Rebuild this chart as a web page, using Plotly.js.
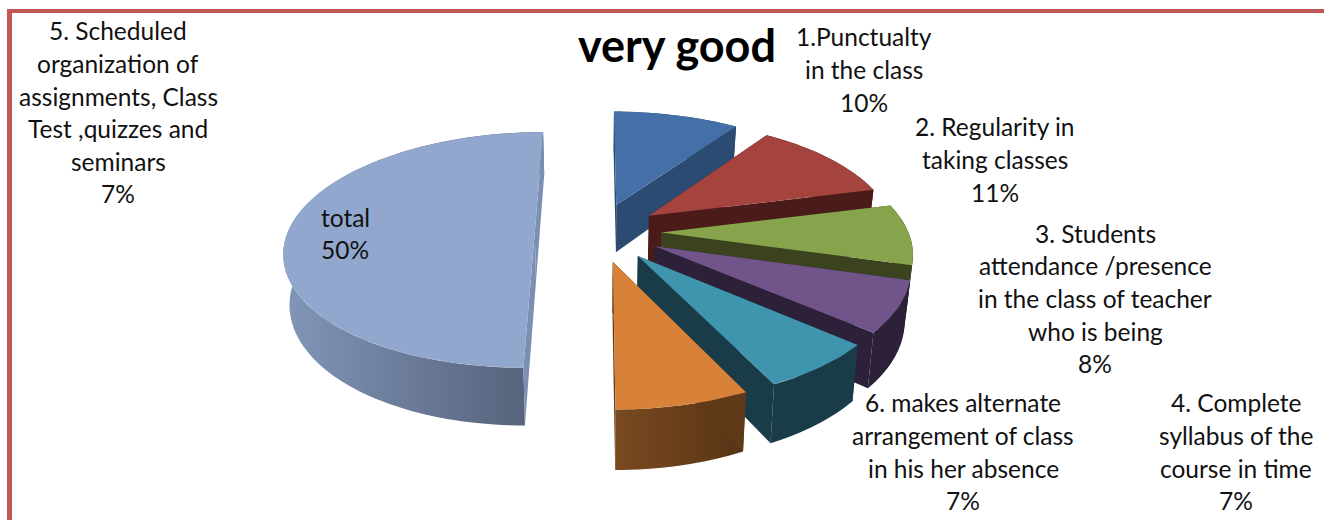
<!DOCTYPE html>
<html>
<head>
<meta charset="utf-8">
<script src="https://cdn.plot.ly/plotly-3.0.1.min.js"></script>
<style>html,body{margin:0;padding:0;background:#fff}#c{width:1324px;height:520px}</style>
</head>
<body>
<div id="c"></div>
<script>
// ---- data ----
const categories = ["1.Punctualty in the class","2. Regularity in taking classes","3. Students attendance /presence in the class of teacher who is being","4. Complete syllabus of the course in time","5. Scheduled organization of assignments, Class Test ,quizzes and seminars","6. makes alternate arrangement of class in his her absence","total"];
const values = [9.7, 11.4, 8.3, 6.9, 6.5, 7.2, 50.0];
const topColors = ["#4570A7","#A5433F","#87A34C","#70548A","#3F95AE","#D88139","#91A7CE"];
const wallColors = ["#2C4B72","#4A1B19","#3A421E","#2C2138","#1A3C49","#573416","#7F93B5"];
const wallGradients = [null,null,null,null,null,["#7A4A20","#573315"],["#8296B8","#525F77"]];
const cutColors = ["#2C4B72","#4A1B19","#3A421E","#2C2138","#1A3C49","#5F3A18","#7B8FB3"];
const drawOrder = [6,0,1,2,3,4,5];
const titleText = "very good";
const labelBlocks = [
  {cx:864, ys:[36,69,102], lines:["1.Punctualty","in the class","10%"]},
  {cx:995, ys:[126,159,192], lines:["2. Regularity in","taking classes","11%"]},
  {cx:1095, ys:[233,265,298,331,363], lines:["3. Students","attendance /presence","in the class of teacher","who is being","8%"]},
  {cx:1236, ys:[402,435,468,500], lines:["4. Complete","syllabus of the","course in time","7%"]},
  {cx:118, ys:[30,63,96,128,161,193], lines:["5. Scheduled","organization of","assignments, Class","Test ,quizzes and","seminars","7%"]},
  {cx:963, ys:[402,435,468,500], lines:["6. makes alternate","arrangement of class","in his her absence","7%"]},
  {cx:345, ys:[217,249], lines:["total","50%"]}
];

// ---- perspective of the pie plane (page pixel axes) ----
const cam = {vx:598, vy:-525, a:247, h:757, t:0.152, explode:0.256, depth:49, shrink:0.98};
function proj(X, Y, low){
  const w = 1 + cam.t * Y;
  let x = cam.vx + cam.a * X / w;
  let y = cam.vy + cam.h / w;
  if (low){ x = cam.vx + (x - cam.vx) * cam.shrink; y += cam.depth / w; }
  return [x, y];
}
const total = values.reduce((s,v)=>s+v,0);
let acc = 0;
const slices = values.map(v=>{
  const a0 = acc/total*2*Math.PI; acc += v;
  const a1 = acc/total*2*Math.PI;
  const m = (a0+a1)/2;
  return {a0,a1,ox:cam.explode*Math.sin(m),oy:cam.explode*Math.cos(m)};
});
function arc(s, low){
  const n = Math.max(8, Math.round((s.a1-s.a0)/0.02)), pts=[];
  for(let i=0;i<=n;i++){
    const t = s.a0+(s.a1-s.a0)*i/n;
    pts.push(proj(s.ox+Math.sin(t), s.oy+Math.cos(t), low));
  }
  return pts;
}
function trace(xs, ys, color, grad, name){
  const tr = {type:"scatter",mode:"lines",x:xs,y:ys,
    fill:"toself",fillcolor:color,line:{width:0,color:color},hoverinfo:"skip",showlegend:false,name:name};
  if(grad){tr.fillgradient={type:"horizontal",colorscale:[[0,grad[0]],[1,grad[1]]]};}
  return tr;
}
function poly(pts, color, grad, name){
  return trace(pts.map(p=>p[0]).concat([pts[0][0]]), pts.map(p=>p[1]).concat([pts[0][1]]), color, grad, name);
}
// rim wall: the sweep of the rim between its top and bottom edges, as overlapping quads
function sweep(topArc, lowArc, color, grad, name){
  const xs=[], ys=[];
  for(let i=0;i<topArc.length-1;i++){
    const j=Math.min(i+2,topArc.length-1);
    [topArc[i],topArc[j],lowArc[j],lowArc[i],topArc[i]].forEach(p=>{xs.push(p[0]);ys.push(p[1]);});
    if(i<topArc.length-2){xs.push(null);ys.push(null);}
  }
  return trace(xs,ys,color,grad,name);
}
const traces = [];
drawOrder.forEach(i=>{
  const s = slices[i];
  const topArc = arc(s,false), lowArc = arc(s,true);
  const at = proj(s.ox,s.oy,false), ab = proj(s.ox,s.oy,true);
  traces.push(sweep(topArc, lowArc, wallColors[i], wallGradients[i], categories[i]+" rim"));
  traces.push(poly([at,topArc[0],lowArc[0],ab], cutColors[i], null, categories[i]+" cut start"));
  traces.push(poly([at,topArc[topArc.length-1],lowArc[lowArc.length-1],ab], cutColors[i], null, categories[i]+" cut end"));
  traces.push(poly([at].concat(topArc), topColors[i], null, categories[i]));
});

const font = "Lato, 'Open Sans', sans-serif";
const annotations = [];
labelBlocks.forEach(b=>b.lines.forEach((ln,k)=>annotations.push({
  text:ln,x:b.cx,y:b.ys[k],xref:"x",yref:"y",xanchor:"center",yanchor:"middle",showarrow:false,
  font:{family:font,size:24.5,color:"#111"}
})));

const layout = {
  width:1324,height:520,margin:{l:0,r:0,t:0,b:0},paper_bgcolor:"#fff",plot_bgcolor:"#fff",showlegend:false,hovermode:false,
  xaxis:{range:[0,1324],visible:false,fixedrange:true},
  yaxis:{range:[520,0],visible:false,fixedrange:true},
  title:{text:"<b>"+titleText+"</b>",x:677/1324,y:1-46/520,xanchor:"center",yanchor:"middle",font:{family:font,size:45,color:"#000"}},
  annotations:annotations,
  shapes:[
    {type:"rect",xref:"x",yref:"y",x0:7,x1:1324,y0:9,y1:13,fillcolor:"#C2575A",line:{width:0},layer:"above"},
    {type:"rect",xref:"x",yref:"y",x0:7,x1:12,y0:9,y1:520,fillcolor:"#C2575A",line:{width:0},layer:"above"}
  ]
};
Plotly.newPlot("c",traces,layout,{displayModeBar:false,staticPlot:true});
</script>
</body>
</html>
